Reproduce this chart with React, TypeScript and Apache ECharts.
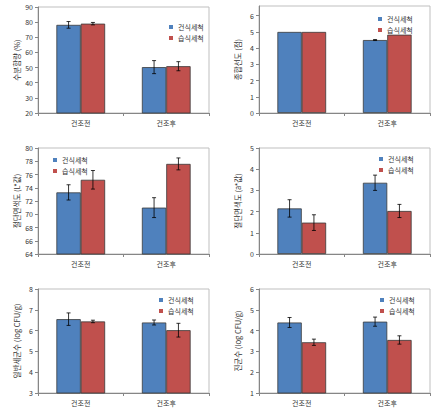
import React, { useEffect, useRef } from "react";
import * as echarts from "echarts";

const categories = ["건조전", "건조후"];
const seriesNames = ["건식세척", "습식세척"];

// panel 1: 수분함량
const moistureDry = [78.2, 50.3];
const moistureDryErr = [2.2, 4.3];
const moistureWet = [79.0, 50.9];
const moistureWetErr = [0.8, 3.0];
// panel 2: 종합선도
const freshDry = [5.0, 4.5];
const freshDryErr = [0, 0.03];
const freshWet = [5.0, 4.83];
const freshWetErr = [0, 0];
// panel 3: L*
const lDry = [73.3, 71.0];
const lDryErr = [1.15, 1.5];
const lWet = [75.2, 77.6];
const lWetErr = [1.4, 0.9];
// panel 4: a*
const aDry = [2.15, 3.36];
const aDryErr = [0.41, 0.36];
const aWet = [1.48, 2.03];
const aWetErr = [0.37, 0.31];
// panel 5: 일반세균수
const bacDry = [6.55, 6.39];
const bacDryErr = [0.3, 0.12];
const bacWet = [6.44, 6.02];
const bacWetErr = [0.06, 0.33];
// panel 6: 진균수
const fungDry = [4.39, 4.43];
const fungDryErr = [0.24, 0.22];
const fungWet = [3.44, 3.55];
const fungWetErr = [0.15, 0.2];

const yNames = [
  "수분함량 (%)",
  "종합선도 (점)",
  "절단면색도 (L*값)",
  "절단면색도 (a*값)",
  "일반세균수 (log CFU/g)",
  "진균수 (log CFU/g)",
];
const yMins = [20, 0, 64, 0, 3, 1];
const yMaxs = [90, 6.6, 80, 5, 8, 6];
const yTicks = [
  [20, 30, 40, 50, 60, 70, 80, 90],
  [0, 1, 2, 3, 4, 5, 6],
  [64, 66, 68, 70, 72, 74, 76, 78, 80],
  [0, 1, 2, 3, 4, 5],
  [3, 4, 5, 6, 7, 8],
  [1, 2, 3, 4, 5, 6],
];

const panels = [
  { dry: moistureDry, dryErr: moistureDryErr, wet: moistureWet, wetErr: moistureWetErr },
  { dry: freshDry, dryErr: freshDryErr, wet: freshWet, wetErr: freshWetErr },
  { dry: lDry, dryErr: lDryErr, wet: lWet, wetErr: lWetErr },
  { dry: aDry, dryErr: aDryErr, wet: aWet, wetErr: aWetErr },
  { dry: bacDry, dryErr: bacDryErr, wet: bacWet, wetErr: bacWetErr },
  { dry: fungDry, dryErr: fungDryErr, wet: fungWet, wetErr: fungWetErr },
];

const grids = [
  { left: 38, top: 7, width: 171, height: 106 },
  { left: 259, top: 6, width: 171, height: 107 },
  { left: 38, top: 148, width: 171, height: 106 },
  { left: 259, top: 148, width: 171, height: 106 },
  { left: 38, top: 289, width: 171, height: 104 },
  { left: 259, top: 289, width: 171, height: 104 },
];
const legendPos = [
  { left: 164, top: 18 },
  { left: 373, top: 10 },
  { left: 48, top: 151 },
  { left: 374, top: 150 },
  { left: 154, top: 291 },
  { left: 375, top: 291 },
];

const FONT = "'Noto Sans CJK KR', 'Noto Sans', sans-serif";
const BLUE = "#4F81BD";
const RED = "#C0504D";
const AXIS = "#868686";
const TEXT = "#333333";
const BAR_W = 0.285;

function errorSeries(gridIdx: number, vals: number[], errs: number[], sign: number) {
  return {
    type: "custom",
    xAxisIndex: gridIdx,
    yAxisIndex: gridIdx,
    z: 5,
    silent: true,
    encode: { x: 0, y: 1 },
    data: vals.map((v, i) => [i, v, errs[i]]),
    renderItem: (params: any, api: any) => {
      const ci = api.value(0);
      const v = api.value(1);
      const e = api.value(2);
      if (!e) return null;
      const band = api.size([1, 0])[0];
      const c = api.coord([ci, v]);
      const x = c[0] + (sign * band * BAR_W) / 2;
      const yt = api.coord([ci, v + e])[1];
      const yb = api.coord([ci, v - e])[1];
      const cap = 2;
      const st = { stroke: "#000", lineWidth: 0.8 };
      return {
        type: "group",
        children: [
          { type: "line", shape: { x1: x, y1: yt, x2: x, y2: yb }, style: st },
          { type: "line", shape: { x1: x - cap, y1: yt, x2: x + cap, y2: yt }, style: st },
          { type: "line", shape: { x1: x - cap, y1: yb, x2: x + cap, y2: yb }, style: st },
        ],
      };
    },
  };
}

export default function App() {
  const ref = useRef<HTMLDivElement>(null);
  useEffect(() => {
    if (!ref.current) return;
    const chart = echarts.init(ref.current, null, { renderer: "svg" });
    const series: any[] = [];
    panels.forEach((p, g) => {
      series.push({
        type: "bar",
        name: seriesNames[0],
        xAxisIndex: g,
        yAxisIndex: g,
        data: p.dry,
        barWidth: BAR_W * 100 + "%",
        barGap: "0%",
        itemStyle: { color: BLUE, borderColor: "#3a3a3a", borderWidth: 0.8 },
      });
      series.push({
        type: "bar",
        name: seriesNames[1],
        xAxisIndex: g,
        yAxisIndex: g,
        data: p.wet,
        barWidth: BAR_W * 100 + "%",
        barGap: "0%",
        itemStyle: { color: RED, borderColor: "#3a3a3a", borderWidth: 0.8 },
      });
      series.push(errorSeries(g, p.dry, p.dryErr, -1));
      series.push(errorSeries(g, p.wet, p.wetErr, 1));
    });
    chart.setOption({
      animation: false,
      backgroundColor: "#ffffff",
      textStyle: { fontFamily: FONT },
      color: [BLUE, RED],
      grid: grids.map((g) => ({
        ...g,
        show: true,
        borderColor: "#BFBFBF",
        borderWidth: 1,
        backgroundColor: "transparent",
        containLabel: false,
      })),
      legend: legendPos.map((lp) => ({
        data: seriesNames,
        orient: "vertical",
        left: lp.left,
        top: lp.top,
        itemWidth: 4,
        itemHeight: 4,
        itemGap: 3,
        icon: "rect",
        selectedMode: false,
        itemStyle: { borderWidth: 0 },
        textStyle: { fontSize: 7, color: TEXT, lineHeight: 8, fontFamily: FONT },
      })),
      xAxis: grids.map((_, g) => ({
        type: "category",
        gridIndex: g,
        data: categories,
        axisLine: { lineStyle: { color: AXIS, width: 1 } },
        axisTick: { show: true, length: 3, lineStyle: { color: AXIS } },
        axisLabel: { fontSize: 7, color: TEXT, margin: 6, fontFamily: FONT },
        splitLine: { show: false },
      })),
      yAxis: grids.map((_, g) => ({
        type: "value",
        gridIndex: g,
        min: yMins[g],
        max: yMaxs[g],
        name: yNames[g],
        nameLocation: "middle",
        nameGap: 18,
        nameTextStyle: { fontSize: 7.5, color: TEXT, fontFamily: FONT },
        axisLine: { show: true, lineStyle: { color: AXIS, width: 1 } },
        axisTick: { show: true, length: 3, lineStyle: { color: AXIS }, customValues: yTicks[g] },
        axisLabel: { fontSize: 7, color: TEXT, margin: 5, fontFamily: FONT, customValues: yTicks[g] },
        splitLine: { show: false },
      })),
      series,
    });
    return () => chart.dispose();
  }, []);
  return (
    <div
      ref={ref}
      style={{ position: "absolute", left: 0, top: 0, width: 439, height: 413, background: "#fff" }}
    />
  );
}
